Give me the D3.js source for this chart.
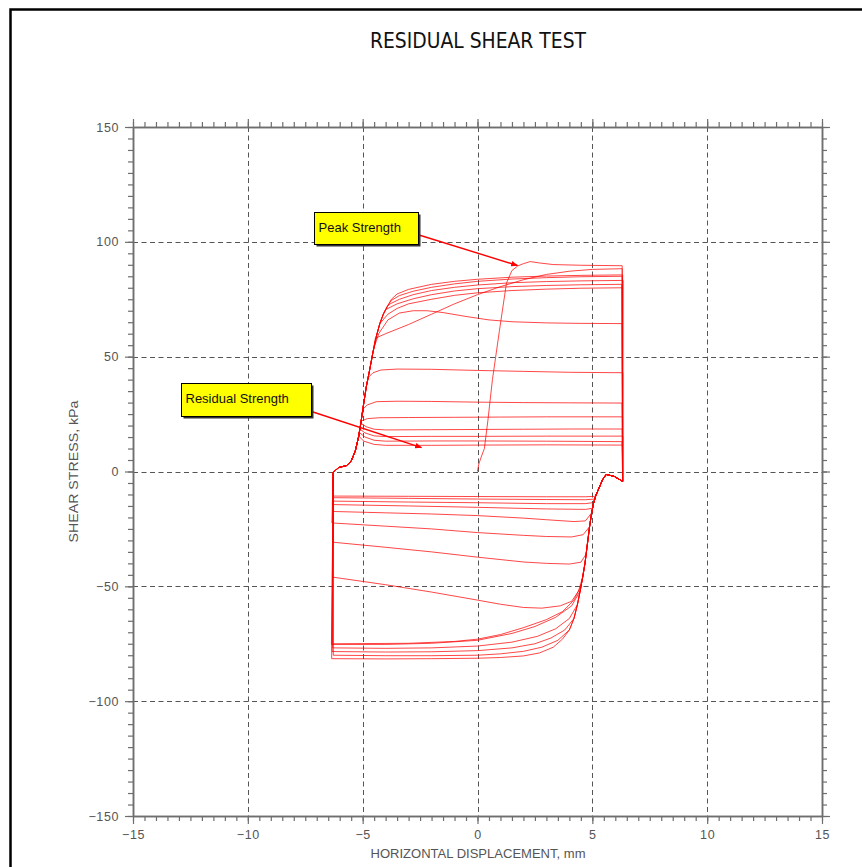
<!DOCTYPE html>
<html>
<head>
<meta charset="utf-8">
<script src="https://cdn.jsdelivr.net/npm/d3@7"></script>
<style>
  body { margin: 0; background: #fff; }
  svg { display: block; }
</style>
</head>
<body>
<svg id="chart" width="862" height="867"></svg>
<script>
// ---- text ----
const chartTitle = "RESIDUAL SHEAR TEST";
const xAxisTitle = "HORIZONTAL DISPLACEMENT, mm";
const yAxisTitle = "SHEAR STRESS, kPa";

// ---- axis ticks ----
const xMajorTicks = [-15, -10, -5, 0, 5, 10, 15];
const yMajorTicks = [-150, -100, -50, 0, 50, 100, 150];
const xGridLines = [-10, -5, 0, 5, 10];
const yGridLines = [-100, -50, 0, 50, 100];

// ---- test record: [displacement mm, shear stress kPa] ----
// first loading from rest up to the peak and on to the right reversal
const initialLoading = [[0,0],[0.05,3],[0.15,6],[0.3,10],[0.45,22],[0.65,40],[0.95,61],[1.26,82],[1.5,87.5],[1.75,89.5],[2.0,90.5],[2.3,91.4],[2.7,90.8],[3.3,90.1],[4.5,89.8],[6.3,89.6]];

// common reloading branch after each left reversal
const leftRise = [[-6.28,-0.4],[-6.05,1.7],[-5.7,2.6],[-5.5,4.5],[-5.32,9],[-5.18,15],[-5.08,21],[-4.98,28],[-4.84,37],[-4.7,44],[-4.55,52],[-4.4,59],[-4.25,64.5],[-4.1,68.5],[-3.92,72]];

// common reloading branch after each right reversal
const rightDrop = [[6.32,-4.3],[5.95,-2.1],[5.6,-1.3],[5.45,-3.5],[5.3,-7],[5.15,-10.5],[5.05,-14],[4.97,-18],[4.88,-24],[4.78,-32],[4.68,-40],[4.58,-46],[4.47,-52],[4.35,-58],[4.2,-64],[4.0,-69],[3.7,-73]];

// forward (left to right) shearing, from the branch point to the right end
const forwardRuns = [
  [[-4.45,58],[-4.0,60],[-3,64],[-2,68.5],[-1,73],[0,77],[1,80.5],[2,83.5],[3,85.8],[4,87.2],[5,88],[6.3,88.3]],
  [[-3.75,75],[-3.5,77.3],[-3,79.3],[-2,81.5],[-1,82.8],[0,83.7],[1.5,84.6],[3,85.1],[4.5,85.4],[6.32,85.6]],
  [[-3.75,74.5],[-3.4,76.6],[-2.8,78.5],[-2,80.2],[-1,81.7],[0,82.8],[1.5,83.8],[3,84.4],[4.5,84.8],[6.3,85]],
  [[-3.8,73],[-3.4,75],[-2.8,77],[-2,78.8],[-1,80.2],[0,81.2],[1.5,82.2],[3,82.7],[4.5,83],[6.34,83.2]],
  [[-4.0,70.5],[-3.5,73],[-2.8,75.2],[-2,77],[-1,78.6],[0,79.6],[1.5,80.5],[3,81],[4.5,81.3],[6.28,81.5]],
  [[-4.2,65],[-3.9,68.5],[-3.5,71],[-3,73],[-2,75],[-1,76.7],[0,77.8],[1.5,78.8],[3,79.4],[4.5,79.8],[6.31,80]],
  [[-4.5,54],[-4.3,60],[-3.9,66],[-3.4,69],[-2.8,70],[-2.2,70],[-1.5,69.2],[-0.5,67.5],[0.5,66],[1.5,65.2],[3,64.7],[4.5,64.5],[6.3,64.4]],
  [[-4.75,41],[-4.55,43],[-4.2,44.2],[-3.5,44.6],[-2,44.5],[0,44],[2,43.6],[4,43.2],[6.33,43]],
  [[-5.0,27],[-4.8,29],[-4.4,30.4],[-3.5,30.6],[-2,30.5],[0,30.2],[2,30],[4,29.9],[6.29,29.8]],
  [[-5.06,22],[-4.8,23],[-4.3,23.4],[-3,23.5],[-1,23.6],[1,23.7],[3,23.8],[6.32,23.8]],
  [[-5.08,21],[-4.85,19.5],[-4.5,18.4],[-4,18.1],[-2,18.2],[0,18.3],[2,18.4],[4,18.5],[6.3,18.5]],
  [[-5.12,18.5],[-4.9,16.8],[-4.5,15.5],[-4,15.2],[-2,15.3],[0,15.3],[3,15.4],[6.33,15.4]],
  [[-5.15,17],[-4.9,15],[-4.5,13.6],[-4,13.2],[-2,13.3],[0,13.3],[3,13.2],[6.29,13]],
  [[-5.18,15.5],[-4.95,13.2],[-4.5,11.8],[-4,11.4],[-2,11.4],[0,11.5],[3,11.6],[6.31,11.5]]
];

// reverse (right to left) shearing, from the branch point to the left end
const reverseRuns = [
  [[4.5,-50],[4.2,-56],[3.7,-61],[3,-64.5],[2,-68],[1,-71],[0,-73],[-1,-74],[-3,-74.8],[-6.3,-75]],
  [[3.7,-73],[3.3,-76.5],[2.7,-79],[2,-80.3],[1,-81],[0,-81.3],[-2,-81.5],[-4,-81.6],[-6.35,-81.5]],
  [[4.0,-69],[3.5,-73.5],[2.8,-76.5],[2,-78.3],[1,-79.4],[0,-80],[-2,-80.2],[-4,-80.2],[-6.28,-80]],
  [[4.2,-64],[3.8,-69],[3.2,-72.5],[2.5,-75],[1.5,-76.8],[0,-78],[-2,-78.5],[-4,-78.6],[-6.33,-78.4]],
  [[4.35,-58],[4.0,-64],[3.4,-68.5],[2.6,-71.8],[1.5,-74.3],[0,-76],[-2,-76.8],[-4,-77],[-6.3,-76.8]],
  [[4.47,-52],[4.1,-58.5],[3.4,-63.5],[2.5,-67.5],[1.5,-70.5],[0,-73.5],[-2,-74.8],[-4,-75.3],[-6.36,-75.3]],
  [[4.58,-46],[4.4,-52],[4.1,-56.5],[3.6,-58.5],[2.8,-59.5],[2,-59.2],[1,-57.8],[0,-56],[-2,-52.5],[-4,-49.3],[-6.3,-46]],
  [[4.73,-36],[4.5,-39.5],[4,-40.3],[3,-40],[2,-39.4],[0,-37.3],[-2,-35],[-4,-33],[-6.28,-30.8]],
  [[4.88,-24],[4.6,-27.5],[4.1,-28.5],[3,-28.3],[2,-27.8],[0,-26.6],[-2,-25],[-4,-23.8],[-6.34,-22.4]],
  [[4.97,-18],[4.7,-21.5],[4.2,-21.8],[3,-21],[2,-20.3],[0,-19.2],[-2,-18.5],[-4,-18],[-6.3,-17.4]],
  [[5.02,-16],[4.7,-16.5],[3,-16.3],[0,-15.6],[-3,-15],[-6.32,-14.4]],
  [[5.07,-13.5],[4.7,-14],[3,-14],[0,-13.6],[-3,-13.3],[-6.27,-12.9]],
  [[5.1,-12],[4.7,-12.3],[3,-12.2],[0,-12],[-3,-11.7],[-6.31,-11.4]],
  [[5.15,-10.8],[4.7,-11],[3,-11],[0,-10.9],[-3,-10.8],[-6.29,-10.7]]
];

// ---- callouts ----
const calloutLabels = ["Peak Strength", "Residual Strength"];
const calloutTargets = [[1.74, 89.7], [-2.44, 10.4]];

// ================= drawing =================
const svg = d3.select("#chart");
const W = 862, H = 867;
const plot = { left: 133, right: 822, top: 127, bottom: 816 };

const x = d3.scaleLinear().domain([-15, 15]).range([plot.left, plot.right]);
const y = d3.scaleLinear().domain([-150, 150]).range([plot.bottom, plot.top]);

const axisColor = "#6e6e6e";
const labelColor = "#555";
const labelFont = "'Liberation Sans', Arial, sans-serif";

// page frame
svg.append("path")
  .attr("d", `M10.5,${H} V9.5 H${W}`)
  .attr("fill", "none").attr("stroke", "#000").attr("stroke-width", 2.5);

// title
svg.append("text")
  .attr("x", 478).attr("y", 48)
  .attr("text-anchor", "middle")
  .attr("font-family", "'Liberation Sans Narrow', 'DejaVu Sans Condensed', Arial, sans-serif")
  .attr("font-size", 21)
  .attr("textLength", 216).attr("lengthAdjust", "spacingAndGlyphs")
  .attr("fill", "#111")
  .text(chartTitle);

// dashed grid
const grid = svg.append("g").attr("stroke", "#555").attr("stroke-width", 1).attr("stroke-dasharray", "5,3.5");
grid.selectAll("line.gx").data(xGridLines).join("line").attr("class", "gx")
  .attr("x1", d => Math.round(x(d)) + 0.5).attr("x2", d => Math.round(x(d)) + 0.5)
  .attr("y1", plot.top).attr("y2", plot.bottom);
grid.selectAll("line.gy").data(yGridLines).join("line").attr("class", "gy")
  .attr("y1", d => Math.round(y(d)) + 0.5).attr("y2", d => Math.round(y(d)) + 0.5)
  .attr("x1", plot.left).attr("x2", plot.right);

// hysteresis loops
const line = d3.line().x(d => x(d[0])).y(d => y(d[1]));
const runs = [initialLoading];
let lastEnd = initialLoading[initialLoading.length - 1];
forwardRuns.forEach((fwd, i) => {
  // reverse run that precedes this forward run
  const rev = reverseRuns[i];
  const revPts = [lastEnd, ...rightDrop.filter(p => p[1] > rev[0][1]), ...rev];
  runs.push(revPts);
  lastEnd = rev[rev.length - 1];
  const fwdPts = [lastEnd, ...leftRise.filter(p => p[1] < fwd[0][1]), ...fwd];
  runs.push(fwdPts);
  lastEnd = fwd[fwd.length - 1];
});
svg.append("g")
  .selectAll("path").data(runs).join("path")
  .attr("d", line)
  .attr("fill", "none")
  .attr("stroke", "#ff0000")
  .attr("stroke-width", 1)
  .attr("stroke-opacity", 0.72)
  .attr("stroke-linejoin", "round");

// axes on all four sides, ticks pointing outward
const minorX = x.ticks(60);
const minorY = y.ticks(60);
const fmt = d => d < 0 ? "\u2212" + Math.abs(d) : String(d);

function styleAxis(g) {
  g.select(".domain").attr("stroke", axisColor).attr("stroke-width", 1.5);
  g.selectAll(".tick line").attr("stroke", axisColor).attr("stroke-width", 1.2);
  g.selectAll(".tick text")
    .attr("fill", labelColor)
    .attr("font-family", labelFont)
    .attr("font-size", 12.5)
    .attr("letter-spacing", 0.6);
}
function addAxis(maker, scale, minors, transform, labelled) {
  svg.append("g").attr("transform", transform)
    .call(maker(scale).tickValues(minors).tickSize(5).tickSizeOuter(0).tickFormat(""))
    .call(styleAxis);
  const majors = (scale === x) ? xMajorTicks : yMajorTicks;
  svg.append("g").attr("transform", transform)
    .call(maker(scale).tickValues(majors).tickSize(8).tickSizeOuter(0)
      .tickPadding(labelled ? 6 : 0)
      .tickFormat(labelled ? fmt : ""))
    .call(styleAxis);
}
addAxis(d3.axisBottom, x, minorX, `translate(0,${plot.bottom})`, true);
addAxis(d3.axisTop, x, minorX, `translate(0,${plot.top})`, false);
addAxis(d3.axisLeft, y, minorY, `translate(${plot.left},0)`, true);
addAxis(d3.axisRight, y, minorY, `translate(${plot.right},0)`, false);

// axis titles
svg.append("text")
  .attr("x", 478).attr("y", 858)
  .attr("text-anchor", "middle")
  .attr("font-family", labelFont).attr("font-size", 12)
  .attr("textLength", 215).attr("lengthAdjust", "spacingAndGlyphs")
  .attr("fill", labelColor)
  .text(xAxisTitle);
svg.append("text")
  .attr("transform", `translate(78,${(plot.top + plot.bottom) / 2}) rotate(-90)`)
  .attr("text-anchor", "middle")
  .attr("font-family", labelFont).attr("font-size", 12)
  .attr("textLength", 142).attr("lengthAdjust", "spacingAndGlyphs")
  .attr("fill", labelColor)
  .text(yAxisTitle);

// callouts: yellow boxes with red leader arrows
svg.append("defs").append("marker")
  .attr("id", "arrowHead")
  .attr("viewBox", "0 0 10 10").attr("refX", 9).attr("refY", 5)
  .attr("markerWidth", 5).attr("markerHeight", 5).attr("orient", "auto")
  .append("path").attr("d", "M0,1 L10,5 L0,9 Z").attr("fill", "#ff0000");

const boxes = [
  { x0: -7.1, y0: 113.2, w: 104, h: 32, lx: 419, ly: 235 },
  { x0: -12.9, y0: 38.5, w: 130, h: 33, lx: 310, ly: 411 }
];
calloutLabels.forEach((label, i) => {
  const b = boxes[i];
  const bx = Math.round(x(b.x0)) + 0.5, by = Math.round(y(b.y0)) + 0.5;
  const g = svg.append("g");
  g.append("line")
    .attr("x1", b.lx).attr("y1", b.ly)
    .attr("x2", x(calloutTargets[i][0])).attr("y2", y(calloutTargets[i][1]))
    .attr("stroke", "#ff0000").attr("stroke-width", 1.4)
    .attr("marker-end", "url(#arrowHead)");
  g.append("rect").attr("x", bx + 2).attr("y", by + 2).attr("width", b.w).attr("height", b.h)
    .attr("fill", "#333");
  g.append("rect").attr("x", bx).attr("y", by).attr("width", b.w).attr("height", b.h)
    .attr("fill", "#ffff00").attr("stroke", "#000").attr("stroke-width", 1);
  g.append("text")
    .attr("x", bx + 4).attr("y", by + 19)
    .attr("font-family", "Arial, 'Liberation Sans', sans-serif").attr("font-size", 13)
    .attr("fill", "#111")
    .text(label);
});
</script>
</body>
</html>
